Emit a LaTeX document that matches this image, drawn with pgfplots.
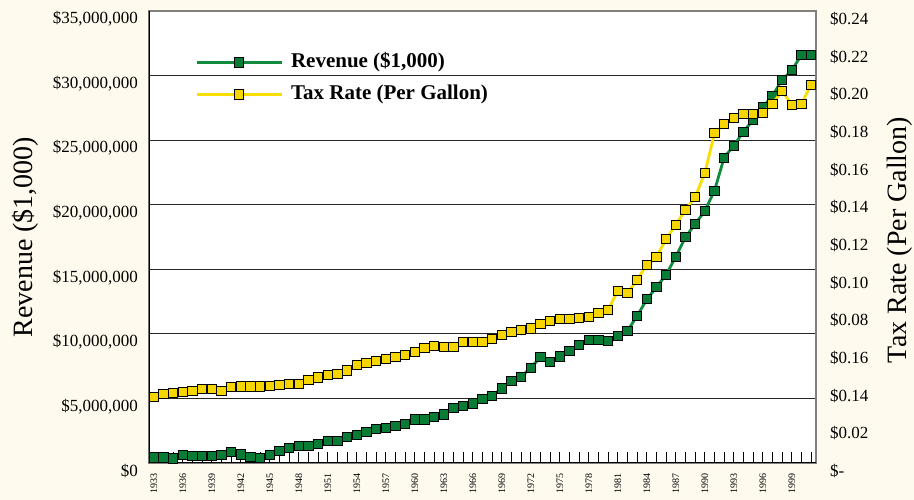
\documentclass[border=0pt]{standalone}
\usepackage{fontspec}
\setmainfont{Liberation Serif}
\usepackage{pgfplots}
\pgfplotsset{compat=1.18}
\usepackage{pgfplotstable}

\definecolor{bg}{RGB}{254,251,238}
\definecolor{gfill}{RGB}{8,124,52}
\definecolor{gline}{RGB}{16,140,60}
\definecolor{yfill}{RGB}{247,214,0}
\definecolor{yline}{RGB}{250,222,0}

\pgfplotstableread{
year rev
1933 0.44
1934 0.44
1935 0.36
1936 0.62
1937 0.57
1938 0.57
1939 0.57
1940 0.62
1941 0.88
1942 0.67
1943 0.49
1944 0.39
1945 0.64
1946 0.95
1947 1.16
1948 1.32
1949 1.34
1950 1.45
1951 1.70
1952 1.73
1953 2.01
1954 2.19
1955 2.38
1956 2.66
1957 2.71
1958 2.87
1959 3.04
1960 3.38
1961 3.38
1962 3.59
1963 3.77
1964 4.24
1965 4.44
1966 4.62
1967 4.96
1968 5.19
1969 5.78
1970 6.38
1971 6.69
1972 7.38
1973 8.19
1974 7.82
1975 8.26
1976 8.70
1977 9.16
1978 9.53
1979 9.53
1980 9.47
1981 9.84
1982 10.25
1983 11.39
1984 12.68
1985 13.61
1986 14.59
1987 15.98
1988 17.48
1989 18.51
1990 19.52
1991 21.09
1992 23.65
1993 24.58
1994 25.66
1995 26.57
1996 27.55
1997 28.45
1998 29.67
1999 30.42
2000 31.60
2001 31.60
}\revtable

\pgfplotstableread{
year rate
1933 0.0352
1934 0.0366
1935 0.0372
1936 0.0379
1937 0.0384
1938 0.0393
1939 0.0393
1940 0.0382
1941 0.0402
1942 0.0407
1943 0.0407
1944 0.0407
1945 0.0411
1946 0.0414
1947 0.0418
1948 0.0420
1949 0.0441
1950 0.0455
1951 0.0467
1952 0.0474
1953 0.0492
1954 0.0520
1955 0.0533
1956 0.0543
1957 0.0551
1958 0.0565
1959 0.0575
1960 0.0591
1961 0.0609
1962 0.0623
1963 0.0616
1964 0.0618
1965 0.0643
1966 0.0643
1967 0.0643
1968 0.0659
1969 0.0681
1970 0.0694
1971 0.0705
1972 0.0715
1973 0.0738
1974 0.0754
1975 0.0765
1976 0.0765
1977 0.0772
1978 0.0775
1979 0.0795
1980 0.0813
1981 0.0915
1982 0.0904
1983 0.0972
1984 0.1053
1985 0.1096
1986 0.1188
1987 0.1266
1988 0.1344
1989 0.1413
1990 0.1539
1991 0.1751
1992 0.1799
1993 0.1834
1994 0.1853
1995 0.1853
1996 0.1857
1997 0.1908
1998 0.1977
1999 0.1900
2000 0.1908
2001 0.2009
}\ratetable

\pgfplotsset{
  revstyle/.style={color=gline, line width=2.8pt, mark=square*, mark size=4.6pt,
    mark options={fill=gfill, draw=black, line width=0.8pt, solid}},
  ratestyle/.style={color=yline, line width=2.8pt, mark=square*, mark size=4.6pt,
    mark options={fill=yfill, draw=black, line width=0.8pt, solid}},
}

\begin{document}
\begin{tikzpicture}
\fill[bg] (-149pt,-37pt) rectangle (765pt,463pt);
\begin{axis}[
  at={(0pt,0pt)}, anchor=south west,
  scale only axis, width=667pt, height=452pt,
  xmin=1932.5, xmax=2001.5, ymin=0, ymax=35,
  axis background/.style={fill=white},
  axis line style={draw=black!50, line width=1.5pt},
  xtick={1933,1936,1939,1942,1945,1948,1951,1954,1957,1960,1963,1966,1969,1972,1975,1978,1981,1984,1987,1990,1993,1996,1999},
  xticklabels={1933,1936,1939,1942,1945,1948,1951,1954,1957,1960,1963,1966,1969,1972,1975,1978,1981,1984,1987,1990,1993,1996,1999},
  minor xtick={1933,1934,...,2001},
  xtick pos=left, tick align=inside,
  major tick length=11pt, minor tick length=11pt,
  every tick/.style={black, line width=0.8pt},
  xticklabel style={font=\fontsize{10}{11}\selectfont, inner sep=0pt, yshift=-10pt, rotate=90, anchor=east},
  ytick={0,5,10,15,20,25,30,35},
  yticklabels={{\$0},{\$5,000,000},{\$10,000,000},{\$15,000,000},{\$20,000,000},{\$25,000,000},{\$30,000,000},{\$35,000,000}},
  ytick style={draw=none},
  ymajorgrids, grid style={black!85, line width=1pt},
  yticklabel style={font=\fontsize{17}{19}\selectfont, anchor=east, inner sep=0pt, xshift=-11pt, yshift=-8pt},
  ylabel={Revenue (\$1,000)},
  every axis y label/.style={at={(axis description cs:0,0.5)}, xshift=-124pt, rotate=90, anchor=center, font=\fontsize{28}{32}\selectfont},
  legend style={draw=none, fill=none, at={(axis description cs:0.069,0.851)}, anchor=west,
    inner sep=0pt, row sep=12pt, column sep=8pt,
    nodes={inner sep=0pt, text height=15pt, text depth=5pt, font=\bfseries\fontsize{21}{24}\selectfont}},
  legend cell align=left,
  legend image code/.code={\draw[mark repeat=2, mark phase=2, #1, line width=2.8pt] plot coordinates {(0pt,0pt) (42.5pt,0pt) (85pt,0pt)};},
]
\addlegendimage{revstyle}
\addlegendentry{Revenue (\$1,000)}
\addlegendimage{ratestyle}
\addlegendentry{Tax Rate (Per Gallon)}
\draw[black, line width=1.8pt] (rel axis cs:0,1) -- (rel axis cs:0,0) -- (rel axis cs:1,0);
\addplot[revstyle, forget plot] table[x=year, y=rev] {\revtable};
\end{axis}
\begin{axis}[
  at={(0pt,0pt)}, anchor=south west,
  scale only axis, width=667pt, height=452pt,
  xmin=1932.5, xmax=2001.5, ymin=0, ymax=0.24,
  axis x line=none, axis y line*=right,
  y axis line style={draw=none},
  ytick={0,0.02,0.04,0.06,0.08,0.10,0.12,0.14,0.16,0.18,0.20,0.22,0.24},
  yticklabels={{\$-},{\$0.02},{\$0.14},{\$0.16},{\$0.08},{\$0.10},{\$0.12},{\$0.14},{\$0.16},{\$0.18},{\$0.20},{\$0.22},{\$0.24}},
  ytick style={draw=none},
  yticklabel style={font=\fontsize{17}{19}\selectfont, anchor=west, inner sep=0pt, xshift=14pt, yshift=-8pt},
  ylabel={Tax Rate (Per Gallon)},
  every axis y label/.style={at={(axis description cs:1,0.5)}, xshift=84pt, yshift=-3pt, rotate=90, anchor=center, font=\fontsize{28}{32}\selectfont},
]
\addplot[ratestyle] table[x=year, y=rate] {\ratetable};
\end{axis}
\pgfresetboundingbox
\useasboundingbox (-149pt,-37pt) rectangle (765pt,463pt);
\end{tikzpicture}
\end{document}
